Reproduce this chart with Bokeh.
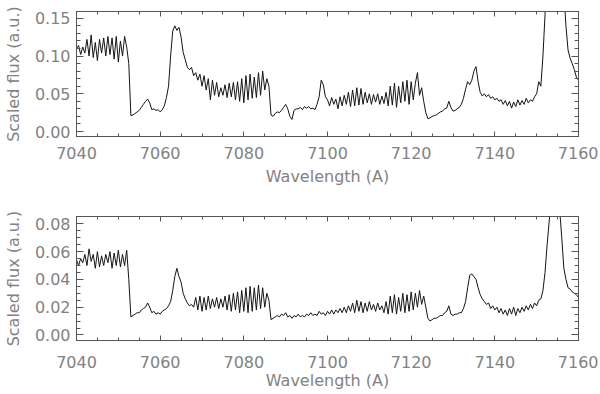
import numpy as np
from bokeh.plotting import figure
from bokeh.layouts import column
from bokeh.models import LinearAxis, FixedTicker, Range1d, NumeralTickFormatter
from bokeh.embed import file_html
from bokeh.resources import INLINE

wl_start = 7040.0
wl_step = 0.5

flux_top = [
    0.110, 0.114, 0.102, 0.112, 0.104, 0.122, 0.100, 0.128, 0.098, 0.118,
    0.094, 0.122, 0.104, 0.124, 0.100, 0.126, 0.102, 0.124, 0.096, 0.126,
    0.092, 0.120, 0.100, 0.126, 0.112, 0.090, 0.021, 0.022, 0.024, 0.026,
    0.028, 0.032, 0.036, 0.040, 0.043, 0.038, 0.029, 0.030, 0.028, 0.029,
    0.026, 0.029, 0.034, 0.045, 0.060, 0.100, 0.133, 0.140, 0.134, 0.138,
    0.125, 0.105, 0.095, 0.085, 0.082, 0.085, 0.074, 0.078, 0.068, 0.076,
    0.060, 0.074, 0.055, 0.070, 0.042, 0.068, 0.048, 0.065, 0.046, 0.058,
    0.048, 0.062, 0.045, 0.064, 0.046, 0.065, 0.042, 0.066, 0.040, 0.070,
    0.038, 0.074, 0.042, 0.076, 0.044, 0.072, 0.045, 0.078, 0.048, 0.080,
    0.055, 0.070, 0.060, 0.022, 0.020, 0.024, 0.026, 0.025, 0.028, 0.032,
    0.036, 0.030, 0.020, 0.016, 0.028, 0.030, 0.030, 0.032, 0.029, 0.033,
    0.031, 0.033, 0.030, 0.031, 0.029, 0.036, 0.046, 0.068, 0.062, 0.046,
    0.042, 0.034, 0.045, 0.036, 0.043, 0.030, 0.046, 0.034, 0.048, 0.036,
    0.052, 0.033, 0.055, 0.034, 0.058, 0.035, 0.057, 0.036, 0.052, 0.038,
    0.050, 0.036, 0.049, 0.039, 0.050, 0.036, 0.047, 0.037, 0.052, 0.034,
    0.060, 0.035, 0.064, 0.032, 0.060, 0.038, 0.066, 0.040, 0.068, 0.036,
    0.066, 0.042, 0.064, 0.078, 0.048, 0.058, 0.040, 0.025, 0.017, 0.018,
    0.020, 0.021, 0.022, 0.024, 0.026, 0.027, 0.030, 0.031, 0.040, 0.032,
    0.027, 0.028, 0.030, 0.032, 0.036, 0.044, 0.056, 0.066, 0.062, 0.068,
    0.080, 0.086, 0.066, 0.052, 0.047, 0.050, 0.046, 0.049, 0.044, 0.046,
    0.042, 0.044, 0.040, 0.042, 0.036, 0.041, 0.034, 0.040, 0.031, 0.039,
    0.033, 0.042, 0.035, 0.041, 0.036, 0.044, 0.038, 0.042, 0.040, 0.046,
    0.050, 0.066, 0.060, 0.100, 0.155, 0.220, 0.280, 0.320, 0.330, 0.320,
    0.300, 0.260, 0.220, 0.185, 0.140, 0.108, 0.097, 0.090, 0.082, 0.072,
    0.068,
]

flux_bottom = [
    0.054, 0.050, 0.055, 0.052, 0.058, 0.050, 0.062, 0.053, 0.058, 0.048,
    0.060, 0.049, 0.057, 0.050, 0.058, 0.052, 0.060, 0.048, 0.059, 0.050,
    0.061, 0.049, 0.058, 0.050, 0.061, 0.040, 0.013, 0.014, 0.015, 0.016,
    0.016, 0.018, 0.019, 0.020, 0.023, 0.020, 0.016, 0.017, 0.015, 0.016,
    0.015, 0.017, 0.018, 0.019, 0.021, 0.024, 0.032, 0.042, 0.048, 0.042,
    0.038, 0.030, 0.026, 0.023, 0.021, 0.022, 0.020, 0.027, 0.018, 0.028,
    0.017, 0.027, 0.018, 0.028, 0.019, 0.026, 0.020, 0.027, 0.019, 0.026,
    0.020, 0.028, 0.018, 0.029, 0.017, 0.030, 0.018, 0.031, 0.016, 0.032,
    0.017, 0.034, 0.016, 0.035, 0.017, 0.034, 0.018, 0.036, 0.019, 0.034,
    0.020, 0.030, 0.025, 0.011, 0.012, 0.013, 0.014, 0.013, 0.015, 0.014,
    0.016, 0.013, 0.014, 0.012, 0.014, 0.013, 0.015, 0.013, 0.014, 0.013,
    0.015, 0.014, 0.016, 0.014, 0.015, 0.014, 0.017, 0.015, 0.016, 0.014,
    0.017, 0.015, 0.018, 0.015, 0.018, 0.016, 0.019, 0.016, 0.020, 0.016,
    0.021, 0.017, 0.023, 0.016, 0.025, 0.017, 0.024, 0.016, 0.023, 0.017,
    0.024, 0.018, 0.022, 0.017, 0.023, 0.018, 0.021, 0.016, 0.024, 0.015,
    0.028, 0.016, 0.029, 0.015, 0.027, 0.017, 0.030, 0.016, 0.029, 0.017,
    0.031, 0.018, 0.030, 0.020, 0.032, 0.022, 0.028, 0.020, 0.012, 0.010,
    0.011, 0.012, 0.012, 0.013, 0.014, 0.014, 0.016, 0.017, 0.021, 0.015,
    0.014, 0.015, 0.015, 0.016, 0.016, 0.019, 0.024, 0.034, 0.043, 0.044,
    0.042, 0.040, 0.034, 0.029, 0.026, 0.024, 0.022, 0.023, 0.019, 0.021,
    0.018, 0.020, 0.016, 0.019, 0.015, 0.018, 0.014, 0.019, 0.015, 0.020,
    0.014, 0.019, 0.016, 0.020, 0.017, 0.021, 0.018, 0.022, 0.019, 0.023,
    0.021, 0.025, 0.026, 0.032, 0.045, 0.065, 0.082, 0.100, 0.115, 0.120,
    0.110, 0.090, 0.070, 0.048, 0.040, 0.034, 0.033, 0.031, 0.030, 0.029,
    0.027,
]

x_major = [7040, 7060, 7080, 7100, 7120, 7140, 7160]
x_minor = [7040 + 5 * i for i in range(25)]
top_major = [0.00, 0.05, 0.10, 0.15]
top_minor = [round(0.01 * i, 3) for i in range(16)]
bot_major = [0.00, 0.02, 0.04, 0.06, 0.08]
bot_minor = [round(0.005 * i, 3) for i in range(17)]
top_yrange = (-0.0066, 0.159)
bot_yrange = (-0.0040, 0.0853)

FONT = "DejaVu Sans"
FS = "16px"
TXT = "#828282"
AX = "#555555"


def style_axis(ax, major, minor, fmt, show_labels, is_y):
    ax.ticker = FixedTicker(ticks=major, minor_ticks=minor)
    ax.formatter = NumeralTickFormatter(format=fmt)
    ax.axis_line_color = AX
    ax.axis_line_width = 1
    ax.major_tick_line_color = AX
    ax.minor_tick_line_color = AX
    ax.major_tick_out = 0
    ax.minor_tick_out = 0
    ax.major_tick_in = 7 if is_y else 5
    ax.minor_tick_in = 4 if is_y else 3
    ax.major_label_text_font = FONT
    ax.axis_label_text_font = FONT
    ax.axis_label_text_color = TXT
    ax.axis_label_text_font_style = "normal"
    ax.axis_label_text_font_size = FS
    if show_labels:
        ax.major_label_text_font_size = FS
        ax.major_label_text_color = TXT
    else:
        ax.major_label_text_font_size = "1px"
        ax.major_label_text_color = None
        ax.major_label_standoff = 0


def make_panel(flux, yr, ymajor, yminor, height, border_top, border_bottom,
               xlab_standoff, xtitle_standoff):
    wl = wl_start + wl_step * np.arange(len(flux))
    p = figure(width=598, height=height, output_backend="svg", toolbar_location=None,
               x_range=Range1d(7040, 7160), y_range=Range1d(*yr),
               min_border_left=76, min_border_right=20, min_border_top=border_top,
               min_border_bottom=border_bottom)
    p.grid.visible = False
    p.outline_line_color = AX
    p.background_fill_color = "white"
    p.border_fill_color = "white"
    p.line(wl, flux, line_color="#141414", line_width=1)

    xa = p.xaxis[0]
    style_axis(xa, x_major, x_minor, "0", True, False)
    xa.axis_label = "Wavelength (A)"
    xa.major_label_standoff = xlab_standoff
    xa.axis_label_standoff = xtitle_standoff

    ya = p.yaxis[0]
    style_axis(ya, ymajor, yminor, "0.00", True, True)
    ya.axis_label = "Scaled flux (a.u.)"
    ya.major_label_standoff = 6
    ya.axis_label_standoff = 9

    top_ax = LinearAxis()
    style_axis(top_ax, x_major, x_minor, "0", False, False)
    p.add_layout(top_ax, "above")
    right_ax = LinearAxis()
    style_axis(right_ax, ymajor, yminor, "0.00", False, True)
    p.add_layout(right_ax, "right")
    return p


p_top = make_panel(flux_top, top_yrange, top_major, top_minor, 212, 11, 76, 10, 5)
p_bot = make_panel(flux_bottom, bot_yrange, bot_major, bot_minor, 180, 4, 50, 15, 0)

layout = column(p_top, p_bot, spacing=0)
open("out.html", "w").write(file_html(layout, INLINE))
